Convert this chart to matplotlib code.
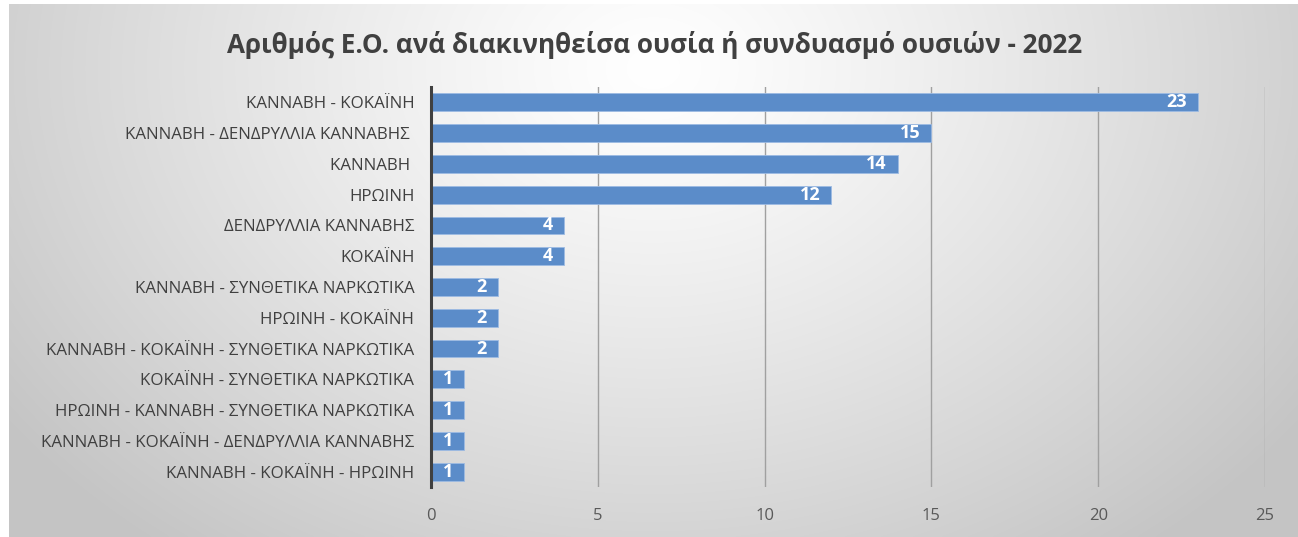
import numpy as np
import matplotlib
matplotlib.use("Agg")
import matplotlib.pyplot as plt

plt.rcParams['font.family'] = ['Open Sans', 'DejaVu Sans']

title = "Αριθμός Ε.Ο. ανά διακινηθείσα ουσία ή συνδυασμό ουσιών - 2022"
categories = [
    "ΚΑΝΝΑΒΗ - ΚΟΚΑΪΝΗ",
    "ΚΑΝΝΑΒΗ - ΔΕΝΔΡΥΛΛΙΑ ΚΑΝΝΑΒΗΣ ",
    "ΚΑΝΝΑΒΗ ",
    "ΗΡΩΙΝΗ",
    "ΔΕΝΔΡΥΛΛΙΑ ΚΑΝΝΑΒΗΣ",
    "ΚΟΚΑΪΝΗ",
    "ΚΑΝΝΑΒΗ - ΣΥΝΘΕΤΙΚΑ ΝΑΡΚΩΤΙΚΑ",
    "ΗΡΩΙΝΗ - ΚΟΚΑΪΝΗ",
    "ΚΑΝΝΑΒΗ - ΚΟΚΑΪΝΗ - ΣΥΝΘΕΤΙΚΑ ΝΑΡΚΩΤΙΚΑ",
    "ΚΟΚΑΪΝΗ - ΣΥΝΘΕΤΙΚΑ ΝΑΡΚΩΤΙΚΑ",
    "ΗΡΩΙΝΗ - ΚΑΝΝΑΒΗ - ΣΥΝΘΕΤΙΚΑ ΝΑΡΚΩΤΙΚΑ",
    "ΚΑΝΝΑΒΗ - ΚΟΚΑΪΝΗ - ΔΕΝΔΡΥΛΛΙΑ ΚΑΝΝΑΒΗΣ",
    "ΚΑΝΝΑΒΗ - ΚΟΚΑΪΝΗ - ΗΡΩΙΝΗ",
]
values = [23, 15, 14, 12, 4, 4, 2, 2, 2, 1, 1, 1, 1]
xticks = [0, 5, 10, 15, 20, 25]

W, H = 1298, 537
fig = plt.figure(figsize=(W / 100, H / 100), dpi=100)
fig.patch.set_facecolor('white')

# background radial gradient
bg = fig.add_axes([9 / W, 0, 1 - 9 / W, 1 - 4 / H], zorder=-10)
ny, nx = 300, 700
yy, xx = np.mgrid[0:1:ny * 1j, 0:1:nx * 1j]
d = np.sqrt(((xx - 0.5) / 0.62) ** 2 + ((yy - 0.12) / 1.15) ** 2)
d = np.clip(d, 0, 1)
v = 1.0 - (1.0 - 0.77) * d ** 1.2
img = np.dstack([v, v, v])
bg.imshow(img, aspect='auto', extent=[0, 1, 1, 0], interpolation='bilinear')
bg.set_axis_off()

ax = fig.add_axes([431 / W, 1 - 487 / H, (1265 - 431) / W, (487 - 87) / H])
ax.set_facecolor('none')
y = np.arange(len(categories))
bars = ax.barh(y, values, height=0.58, color='#5b8cc9', edgecolor='#9dbbe3',
               linewidth=0.6, zorder=3)
ax.set_ylim(len(categories) - 0.5, -0.5)
ax.set_xlim(0, 25)
ax.set_yticks(y)
ax.set_yticklabels(categories, fontsize=12.2, color='#404040')
ax.set_xticks(xticks)
ax.set_xticklabels([str(t) for t in xticks], fontsize=12, color='#595959')
ax.tick_params(axis='y', length=0, pad=12)
ax.tick_params(axis='x', length=0, pad=15)
for s in ['top', 'right', 'bottom']:
    ax.spines[s].set_visible(False)
ax.spines['left'].set_color('#404040')
ax.spines['left'].set_linewidth(2.2)
ax.spines['left'].set_zorder(5)
ax.grid(axis='x', color='#a0a0a0', linewidth=1.0, zorder=0)
ax.set_axisbelow(True)

for b, val in zip(bars, values):
    ax.annotate(str(val), xy=(b.get_width(), b.get_y() + b.get_height() / 2),
                xytext=(-8, 0), textcoords='offset points', ha='right', va='center',
                color='white', fontweight='bold', fontsize=13, zorder=6)

fig.text(655 / W, 1 - 45 / H, title, ha='center', va='center', fontsize=18.8,
         fontweight='bold', color='#404040')

fig.savefig('out.png', dpi=100)
